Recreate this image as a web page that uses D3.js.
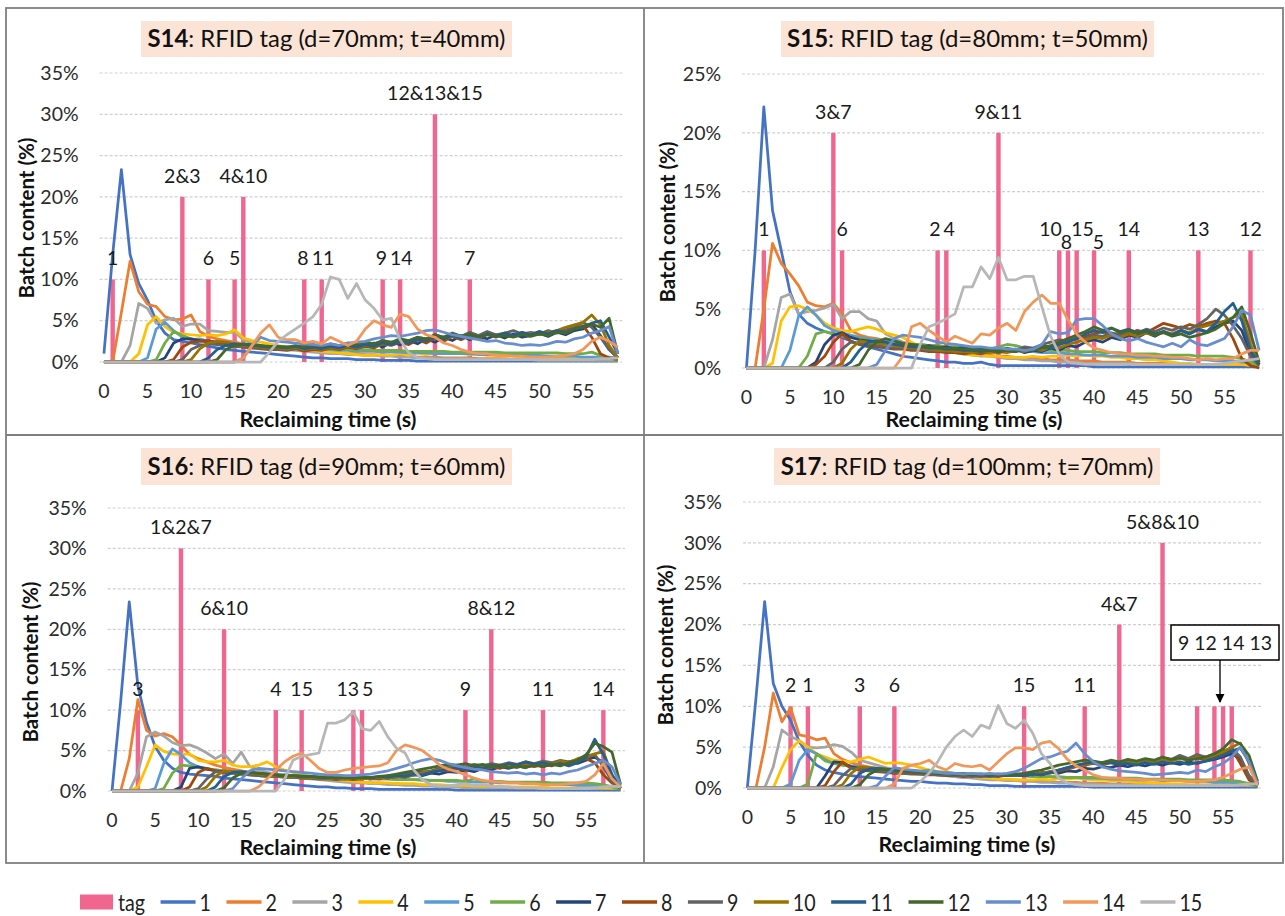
<!DOCTYPE html>
<html>
<head>
<meta charset="utf-8">
<script src="https://cdn.jsdelivr.net/npm/d3@7"></script>
<style>
  body { margin: 0; background: #fff; }
  text { font-family: Lato, "Open Sans", "DejaVu Sans", sans-serif; }
</style>
</head>
<body>
<svg id="chart" width="1285" height="916"></svg>
<script>
// ---------- data ----------
const seconds = d3.range(60);
const xTicks = [0, 5, 10, 15, 20, 25, 30, 35, 40, 45, 50, 55];
const yTicks35 = [0, 5, 10, 15, 20, 25, 30, 35];
const yTicks25 = [0, 5, 10, 15, 20, 25];
const seriesNames = ["1","2","3","4","5","6","7","8","9","10","11","12","13","14","15"];
const lineColors = ["#4472C4","#ED7D31","#A5A5A5","#FFC000","#5B9BD5","#70AD47","#264478","#9E480E",
                    "#636363","#997300","#255E91","#43682B","#698ED0","#F1975A","#B7B7B7"];
const tagColor = "#F0668F";

// S14
const s14TagX = [1, 9, 12, 15, 16, 23, 25, 32, 34, 38, 42];
const s14TagV = [10, 20, 10, 10, 20, 10, 10, 10, 10, 30, 10];
const s14TagText = ["1", "2&3", "6", "5", "4&10", "8", "11", "9", "14", "12&13&15", "7"];
const s14 = [
  [1,13,23.3,13,9.5,7.5,5,3.5,2.7,2.5, 2.3,2.1,1.9,1.7,1.5,1.4,1.3,1.2,1.1,1, 0.9,0.8,0.7,0.6,0.5,0.5,0.4,0.4,0.4,0.3, 0.3,0.3,0.2,0.2,0.2,0.2,0.1,0.1,0.1,0.1, 0.1,0.1,0.1,0.1,0.1,0.1,0.1,0.1,0.1,0.1, 0.1,0.1,0.1,0.1,0.1,0.1,0.1,0.1,0.1,0.1],
  [0,0,6,12.2,8.5,7,6.7,5.5,5.1,5.2, 5.7,3.7,3.1,2.8,2.6,2.4,2.2,2,1.9,1.8, 1.7,1.6,1.5,1.4,1.3,1.2,1.2,1.1,1,1, 0.9,0.9,0.8,0.8,0.7,0.7,0.6,0.6,0.6,0.5, 0.5,0.5,0.5,0.4,0.4,0.4,0.4,0.3,0.3,0.3, 0.3,0.3,0.3,0.3,0.3,0.3,0.3,0.3,0.3,0.3],
  [0,0,0,2,7.1,6.5,4.7,5.1,5.3,4.3, 4.6,4.6,3.8,3.7,3.6,3.6,2.7,2.3,2,1.8, 1.6,1.5,1.4,1.3,1.2,1.1,1,1,0.9,0.9, 0.8,0.8,0.7,0.7,0.6,0.6,0.5,0.5,0.5,0.4, 0.4,0.4,0.4,0.3,0.3,0.3,0.3,0.3,0.3,0.3, 0.2,0.2,0.2,0.2,0.2,0.2,0.2,0.2,0.2,0.2],
  [0,0,0,0,1,4.5,5.5,4.3,3.6,3.4, 3.3,3.2,3.3,3.2,3.4,3.9,2.9,2.6,2.4,2.2, 2,1.8,1.6,1.5,1.4,1.3,1.2,1.1,1,0.9, 0.8,0.8,0.9,0.8,1,0.8,1.1,0.9,1.2,1, 1.1,1,0.9,1,0.8,0.8,0.7,0.7,0.6,0.6, 0.6,0.5,0.5,0.5,0.5,0.5,0.4,0.4,0.4,0.3],
  [0,0,0,0,0,0.5,4,4.8,3.8,3, 2.7,2.8,2.5,2.4,2.4,2.2,2.1,2,1.9,1.9, 1.8,1.8,1.7,1.6,1.6,1.5,1.5,1.4,1.4,1.3, 1.3,1.3,1.2,1.2,1.2,1.1,1.1,1.1,1,1, 1,1,1,0.9,0.9,0.9,0.9,0.8,0.8,0.8, 0.8,0.7,0.7,0.7,0.7,0.6,0.6,0.6,0.6,0.5],
  [0,0,0,0,0,0,0.3,2.3,3.7,3.2, 2.8,2.6,2.4,2.3,2.2,2.1,2,2,1.9,1.9, 1.8,1.8,1.7,1.7,1.6,1.6,1.6,1.5,1.5,1.5, 1.5,1.4,1.4,1.4,1.4,1.3,1.3,1.3,1.3,1.3, 1.2,1.2,1.2,1.2,1.2,1.2,1.1,1.1,1.1,1.1, 1.1,1.1,1.1,1,1,1,1.2,0.8,0.5,0.2],
  [0,0,0,0,0,0,0,0.5,2.3,2.8, 2.8,2.6,2.5,2.4,2.2,2.1,2,2,1.9,1.9, 1.8,1.8,1.8,1.8,1.7,1.7,1.7,1.8,1.8,1.9, 1.9,2.3,1.8,2.4,2.1,2.6,2.2,2.8,2.4,3, 2.6,3.2,2.7,3.1,2.8,3.3,2.9,3.4,3,3.2, 3.5,3.1,3.6,3.3,3.8,4,4.6,3.2,1.5,0.5],
  [0,0,0,0,0,0,0,0,0.3,1.8, 2.4,2.5,2.6,2.3,2.1,2,1.8,1.7,1.6,1.5, 1.5,1.4,1.6,1.3,1.5,1.4,1.7,1.5,1.8,1.6, 1.9,1.7,2.2,2,2.4,2.1,2.7,2.3,2.9,2.5, 3.1,2.7,3.2,2.8,3.4,3,3.5,3.1,3.6,3.2, 3.7,3.3,3.8,3.5,4,4.4,3,1,0.5,0.3],
  [0,0,0,0,0,0,0,0,0,0.3, 1.5,2,2.2,2.1,2,1.9,1.8,1.7,1.7,1.6, 1.6,1.5,1.7,1.5,1.8,1.6,1.9,1.7,2,1.8, 2.1,2,2.4,2.2,2.7,2.5,3,2.8,3.3,3, 3.4,3.1,3.6,3.2,3.7,3.3,3.5,3.8,3.4,3.6, 3.4,3.8,3.5,3.9,4.2,4.8,4.2,3,1.5,0.5],
  [0,0,0,0,0,0,0,0,0,0, 0.3,1.6,2.3,2.5,2.4,2.2,2,1.9,1.8,1.7, 1.7,1.6,1.8,1.5,1.7,1.5,1.8,1.6,1.9,1.7, 2,1.9,2.2,2.1,2.5,2.4,2.8,2.6,3,2.8, 3.1,2.9,3.2,3,3.3,3.1,3.4,3.2,3.3,3.5, 3.3,3.6,3.8,4.2,4.5,4.8,5.7,4.5,2,0.5],
  [0,0,0,0,0,0,0,0,0,0, 0,0,0.5,1.5,2,2.2,2.1,2,1.9,1.8, 1.8,1.7,1.9,1.6,1.8,1.6,1.9,1.7,2,1.8, 2.1,1.9,2.3,2.1,2.5,2.3,2.7,2.6,3,2.8, 3.2,2.9,3.3,3,3.4,3.1,3.5,3.2,3.6,3.3, 3.7,3.4,3.8,3.6,4,4.3,4.7,5,3,1],
  [0,0,0,0,0,0,0,0,0,0, 0,0,0,0.3,1.5,2,2.2,2.1,2,1.9, 1.9,1.8,2,1.8,2.1,1.9,2.2,2,2.3,2.1, 2.4,2.2,2.6,2.4,2.8,2.6,3,2.8,3.3,3, 3.5,3.1,3.4,3,3.3,3.1,3.2,3,3.3,3.1, 3.4,3.2,3.6,3.5,4,4.2,4.6,4.2,5.3,1],
  [0,0,0,0,0,0,0,0,0,0, 0,0,0,0,0,0,0.5,2,3,2.6, 2.5,2.4,2.3,2.2,2.1,2,2.2,2,2.3,2.4, 2.5,2.8,3,3.2,3.1,3.3,3.5,3.8,3.9,3.6, 3.3,3.1,2.9,2.7,2.5,2.6,2.3,2.2,2,2.1, 2,2.2,2.5,2.4,2.8,3,3.5,3.8,4.3,1],
  [0,0,0,0,0,0,0,0,0,0, 0,0,0,0,0,0,0.5,2,3.5,4.5, 3,2.7,2.7,2.3,2.5,2.2,3,2.5,2,2.5, 4,5,4.5,4.2,5.8,5.5,4,3.3,3,2.3, 2,1.5,1.2,1,1,0.8,0.8,0.7,0.7,0.6, 0.6,0.6,0.7,0.8,1,1.5,2.5,3,2.5,1.8],
  [0,0,0,0,0,0,0,0,0,0, 0,0,0,0,0,0,0,0,0,1.2, 2.5,3.3,4,4.7,5.5,7,10.3,10,7.7,9.5, 7.5,6.5,5.1,5.3,2.7,1.1,0.5,0.4,0.3,0.3, 0.3,0.3,0.3,0.3,0.3,0.3,0.3,0.3,0.3,0.3, 0.3,0.3,0.3,0.3,0.3,0.3,0.3,0.4,0.4,0.5]
];

// S15
const s15TagX = [2, 10, 11, 22, 23, 29, 36, 37, 38, 40, 44, 52, 58];
const s15TagV = [10, 20, 10, 10, 10, 20, 10, 10, 10, 10, 10, 10, 10];
const s15TagText = ["1", "3&7", "6", "2", "4", "9&11", "10", "8", "15", "5", "14", "13", "12"];
const s15 = [
  [0,10,22.2,13.4,10,6.5,4.6,3.8,3.4,3.1, 2.9,2.6,2.3,2,1.8,1.6,1.4,1.2,1,0.9, 0.8,0.7,0.6,0.5,0.5,0.4,0.4,0.5,0.3,0.2, 0.2,0.2,0.2,0.2,0.2,0.2,0.2,0.2,0.2,0.2, 0.1,0.1,0.1,0.1,0.1,0.1,0.1,0.1,0.1,0.1, 0.1,0.1,0.1,0.1,0.1,0.1,0.1,0.1,0.1,0.1],
  [0,0,5,10.6,8.9,8,7,5.6,5.3,5.2, 5.5,4.6,3.2,2.8,2.6,2.5,2.3,2.2,2,1.9, 1.8,1.7,1.6,1.5,1.4,1.3,1.2,1.2,1.1,1, 1,0.9,0.9,0.8,0.8,0.7,0.7,0.7,0.6,0.6, 0.6,0.5,0.5,0.5,0.5,0.4,0.4,0.4,0.4,0.4, 0.3,0.3,0.3,0.3,0.3,0.3,0.3,0.3,0.3,0.3],
  [0,0,0,2.4,6,6.3,4.6,4.8,4.9,5.1, 5.4,4.2,4.8,4.8,4.2,4,2.9,2.5,2.2,2, 1.8,1.6,1.5,1.4,1.3,1.2,1.1,1,1,0.9, 0.8,0.8,0.7,0.7,0.6,0.6,0.5,0.5,0.5,0.4, 0.4,0.4,0.4,0.4,0.4,0.3,0.3,0.3,0.3,0.3, 0.3,0.3,0.3,0.3,0.3,0.3,0.3,0.3,0.3,0.3],
  [0,0,0,0.4,4,5.2,5.3,5,4.5,3.8, 3.4,3.2,3.1,3.3,3.5,3.3,3,2.8,2.6,2.2, 1.8,1.6,1.5,1.4,1.3,1.2,1.1,1.1,1,1, 0.9,0.9,0.9,1,0.9,1,1,1.1,1,1.1, 1,1,0.9,0.9,0.8,0.8,0.7,0.7,0.6,0.5, 0.4,0.4,0.3,0.3,0.3,0.3,0.3,0.3,0.2,0.2],
  [0,0,0,0,0,1.5,4.4,5.2,4.5,3.6, 3.2,3,2.8,2.6,2.5,2.4,2.3,2.2,2.1,2, 2,1.9,1.9,1.8,1.8,1.7,1.7,1.6,1.6,1.5, 1.5,1.5,1.4,1.4,1.3,1.3,1.3,1.2,1.2,1.1, 1.1,1.1,1,1,1,0.9,0.9,0.9,0.8,0.8, 0.8,0.7,0.7,0.7,0.6,0.6,0.6,0.5,0.5,0.5],
  [0,0,0,0,0,0,0,1,2.9,3.1, 2.9,2.7,2.6,2.5,2.4,2.3,2.2,2.1,2.1,2, 2,1.9,1.9,1.8,1.8,1.7,1.7,1.7,1.6,1.8, 2,1.9,1.7,1.6,1.6,1.5,1.5,1.5,1.4,1.4, 1.4,1.3,1.3,1.3,1.2,1.2,1.2,1.2,1.1,1.1, 1.1,1.1,1,1,1,1,0.9,0.8,0.5,0.2],
  [0,0,0,0,0,0,0,0,0.5,2, 2.8,3,2.6,2.4,2.3,2.2,2.1,2,1.9,1.9, 1.8,1.9,1.7,1.8,1.6,1.8,1.6,1.7,1.5,1.6, 1.4,1.6,1.3,1.5,1.4,1.7,1.5,1.9,1.8,2.2, 2.4,2.2,2.6,2.4,2.8,2.6,3,2.7,3.1,2.8, 3.2,2.9,3.3,3,3.5,3.8,4,3.2,1.2,0.3],
  [0,0,0,0,0,0,0,0,0.3,1, 2.2,2.9,2.3,2,1.9,1.8,1.7,1.6,1.6,1.5, 1.5,1.4,1.4,1.3,1.3,1.2,1.3,1.2,1.4,1.3, 1.5,1.4,1.7,1.6,1.9,1.8,2.1,2.3,2.5,2.7, 2.9,3.1,2.8,3,2.9,3.2,3,3.4,3.8,3.6, 3.4,3.7,3.5,3.8,4,3.8,2.5,0.8,0.2,0],
  [0,0,0,0,0,0,0,0,0,0, 0.5,1.6,2.2,2.1,2,1.9,1.8,1.7,1.7,1.6, 1.6,1.5,1.5,1.4,1.5,1.4,1.6,1.4,1.6,1.5, 1.7,1.5,1.8,1.7,2,2.2,2.4,2.3,2.6,2.5, 2.8,2.7,3,2.8,3.1,3,3.3,3.1,3.4,3.2, 3.5,3.3,3.7,4.2,5,4.5,3.6,2.5,1,0.2],
  [0,0,0,0,0,0,0,0,0,0, 0,0.4,1.6,2.3,2.2,2.1,2,1.9,1.8,1.7, 1.7,1.6,1.5,1.5,1.4,1.4,1.3,1.4,1.3,1.4, 1.3,1.5,1.4,1.6,1.5,1.8,1.7,2,2.2,2.4, 2.6,2.5,2.8,2.6,2.9,2.7,3,2.8,3.1,2.9, 3.2,3,3.4,3.6,3.8,4,4.3,4.6,2,0.3],
  [0,0,0,0,0,0,0,0,0,0, 0,0,0.5,1.5,2.2,2.3,2.2,2,1.9,1.8, 1.8,1.7,1.7,1.6,1.6,1.5,1.5,1.4,1.5,1.4, 1.5,1.4,1.6,1.5,1.8,1.7,2,2.2,2.5,2.9, 3.2,3,3.4,3.1,3.3,3,3.2,2.9,3.1,2.8, 3.2,2.9,3.3,3.1,3.8,4.8,5.5,4,1.5,0.3],
  [0,0,0,0,0,0,0,0,0,0, 0,0,0,0.3,1.5,2.2,2.5,2.3,2.1,2, 1.9,1.8,1.8,1.7,1.7,1.6,1.6,1.5,1.5,1.4, 1.5,1.4,1.6,1.5,1.7,1.9,2.2,2.5,2.8,3.1, 3.5,3.2,3.4,3,3.2,2.9,3.1,2.8,3,2.7, 2.9,2.6,2.8,3,3.3,3.8,4.3,5.2,3,0.5],
  [0,0,0,0,0,0,0,0,0,0, 0,0,0,0,0,0.3,1.5,2.5,2.8,2.7, 2.6,2.4,2.2,2.1,2,1.9,1.8,1.8,1.7,1.7, 1.6,1.6,1.5,1.6,2,3.1,2.9,3,4.1,4.2, 4.2,3.6,2.9,2.5,2.3,2.5,2.2,2,1.8,2.1, 1.8,2.4,2,1.9,2.2,2.5,3.5,4.9,4.5,1.5],
  [0,0,0,0,0,0,0,0,0,0, 0,0,0,0,0,0,0,0,1,3.5, 3.8,3.2,2.7,2.2,2.7,2.4,2.1,2.9,2.8,3.4, 3.8,3.2,4.8,5.6,6.2,5.5,5.5,4.1,2.9,2.2, 1.7,1.5,1.3,1.2,1.2,1.1,1.1,1,1,0.9, 0.9,0.8,0.7,0.8,0.7,0.8,0.8,1.2,1.5,1.5],
  [0,0,0,0,0,0,0,0,0,0, 0,0,0,0,0,0,0,0,0,0, 2,3.5,3.8,4.2,4.6,6.9,6.9,8.6,7.6,9.4, 7.5,7.5,7.8,7.8,5.2,2.7,1.2,0.5,0.4,0.3, 0.3,0.3,0.3,0.3,0.3,0.3,0.3,0.3,0.3,0.3, 0.3,0.3,0.3,0.3,0.3,0.4,0.5,0.6,0.7,0.8]
];

// S16
const s16TagX = [3, 8, 13, 19, 22, 28, 29, 41, 44, 50, 57];
const s16TagV = [10, 30, 20, 10, 10, 10, 10, 10, 20, 10, 10];
const s16TagText = ["3", "1&2&7", "6&10", "4", "15", "13", "5", "9", "8&12", "11", "14"];
const s16 = [
  [0,11,23.4,13,8.5,5.5,3.8,2.8,2.3,2.1, 2,1.9,1.8,1.6,1.5,1.4,1.3,1.2,1.1,1, 0.9,0.8,0.7,0.6,0.5,0.5,0.4,0.4,0.3,0.3, 0.3,0.2,0.2,0.2,0.2,0.2,0.2,0.2,0.2,0.2, 0.1,0.1,0.1,0.1,0.1,0.1,0.1,0.1,0.1,0.1, 0.1,0.1,0.1,0.1,0.1,0.1,0.1,0.1,0.1,0.1],
  [0,0,4,11.3,7.5,6.8,7.1,6.7,5.7,4.5, 4,3.6,3.2,2.9,2.7,2.5,2.3,2.2,2.1,2, 1.9,1.8,1.7,1.6,1.5,1.4,1.3,1.2,1.2,1.1, 1,1,0.9,0.9,0.8,0.8,0.7,0.7,0.7,0.6, 0.6,0.6,0.5,0.5,0.5,0.5,0.4,0.4,0.4,0.4, 0.4,0.3,0.3,0.3,0.3,0.3,0.3,0.3,0.3,0.3],
  [0,0,0,2.2,6.7,7.3,6.8,6,5.6,5.7, 5.3,4.7,4,4.6,3.4,4.8,3,2.6,2.3,2.1, 1.9,1.7,1.6,1.5,1.4,1.3,1.2,1.1,1,1, 0.9,0.9,0.8,0.8,0.7,0.7,0.6,0.6,0.5,0.5, 0.5,0.4,0.4,0.4,0.4,0.4,0.4,0.4,0.4,0.4, 0.3,0.3,0.3,0.3,0.3,0.3,0.3,0.3,0.3,0.3],
  [0,0,0,0.5,3,5.7,4.9,4.6,4.5,4.6, 3.8,3.6,3.6,3.8,3.2,3,3,3.2,3.6,3, 2.6,2.3,2,1.8,1.6,1.5,1.4,1.3,1.2,1.1, 1,1,1,0.9,0.9,0.9,0.8,0.8,0.8,0.7, 0.7,0.7,0.6,0.6,0.6,0.6,0.5,0.5,0.5,0.5, 0.5,0.4,0.4,0.4,0.4,0.4,0.4,0.4,0.4,0.4],
  [0,0,0,0,0,0.3,3.4,5.2,4.5,3.5, 3,2.8,2.6,2.5,2.4,2.3,2.2,2.1,2.1,2, 2,1.9,1.9,1.8,1.8,1.7,1.7,1.6,1.6,1.6, 1.5,1.5,1.5,1.4,1.4,1.4,1.3,1.3,1.3,1.2, 1.2,1.2,1.1,1.1,1.1,1,1,1,0.9,0.9, 0.9,0.8,0.8,0.8,0.7,0.7,0.7,0.6,0.6,0.5],
  [0,0,0,0,0,0,0.3,2.2,3.2,3.1, 2.9,2.7,2.6,2.5,2.4,2.3,2.2,2.1,2.1,2, 2,1.9,1.9,1.8,1.8,1.7,1.7,1.6,1.6,1.6, 1.5,1.5,1.5,1.4,1.4,1.4,1.4,1.3,1.3,1.3, 1.3,1.2,1.5,1.2,1.2,1.2,1.1,1.1,1.1,1.1, 1.1,1,1,1,1,1,0.9,0.8,0.5,0.2],
  [0,0,0,0,0,0,0,0,0.5,2.8, 3,2.7,2.5,2.4,2.3,2.2,2.1,2,1.9,1.9, 1.8,1.8,1.7,1.7,1.6,1.7,1.5,1.6,1.5,1.6, 1.5,1.7,1.6,1.8,1.7,2,1.9,2.2,2.1,2.4, 2.3,2.6,2.4,2.8,2.6,3,2.8,3.1,2.9,3.3, 3,3.4,3.2,3.6,3.4,3.8,4.2,3.5,1.5,0.3],
  [0,0,0,0,0,0,0,0,0,0.5, 2.3,2.8,2.5,2.3,2.2,2.1,2,1.9,1.8,1.8, 1.7,1.7,1.6,1.6,1.5,1.5,1.4,1.5,1.4,1.5, 1.6,1.5,1.8,1.7,2,2.2,2.4,2.3,2.6,2.5, 2.8,2.6,2.9,2.7,3,2.8,3.1,2.9,3.2,3, 3.3,3.1,3.5,3.3,3.7,4,3.5,2,1,0.3],
  [0,0,0,0,0,0,0,0,0,0, 0.3,1.5,2.4,2.3,2.2,2.1,2,1.9,1.8,1.8, 1.7,1.7,1.6,1.6,1.5,1.5,1.6,1.5,1.6,1.5, 1.7,1.6,1.9,1.8,2.1,2,2.3,2.5,2.8,3, 3.2,3,3.3,3.1,3.4,3.2,3.5,3.3,3.6,3.4, 3.7,3.5,3.8,3.6,3.9,4.1,4.5,3,1.2,0.3],
  [0,0,0,0,0,0,0,0,0,0, 0,0.5,1.8,2.5,2.4,2.3,2.2,2.1,2,1.9, 1.8,1.8,1.7,1.7,1.6,1.6,1.5,1.6,1.5,1.6, 1.5,1.7,1.6,1.8,1.7,2,2.2,2.4,2.6,2.8, 3,2.8,3.1,2.9,3.2,3,3.3,3.1,3.4,3.2, 3.5,3.3,3.7,3.5,4,4.3,4.6,4.9,2,0.3],
  [0,0,0,0,0,0,0,0,0,0, 0,0,0.5,1.8,2.3,2.4,2.3,2.2,2.1,2, 1.9,1.9,1.8,1.8,1.7,1.7,1.6,1.7,1.6,1.7, 1.6,1.8,1.7,1.9,1.8,2.1,2,2.3,2.5,2.7, 2.9,2.7,3,2.8,3.2,3,3.4,3.2,3.6,3.3, 3.5,3.2,3.4,3.1,3.5,4.2,6.4,4.5,2,0.5],
  [0,0,0,0,0,0,0,0,0,0, 0,0,0,0.4,1.6,2.2,2.3,2.2,2.1,2, 1.9,1.9,1.8,1.8,1.7,1.7,1.6,1.7,1.6,1.7, 1.7,1.8,1.9,2.1,2.3,2.5,2.7,2.9,3.1,3.3, 3.2,3.4,3.1,3.3,3,3.2,2.9,3.1,2.9,3.2, 3,3.3,3.1,3.5,3.8,4.5,5.9,5.5,4.8,0.8],
  [0,0,0,0,0,0,0,0,0,0, 0,0,0,0,0.3,1.5,2.5,2.8,2.7,2.6, 2.5,2.4,2.3,2.2,2.1,2,2,1.9,1.9,2, 2.1,2.3,2.5,2.8,3.1,3.5,3.8,4,3.8,3.4, 3.1,2.9,2.7,2.6,2.4,2.3,2.2,2.3,2.1,2.2, 2,2.2,2.1,2.4,2.6,3,3.4,3.8,3,0.8],
  [0,0,0,0,0,0,0,0,0,0, 0,0,0,0,0,0,0,0.5,1.5,2.6, 3.6,4.3,4.7,3.8,2.8,2.3,2.3,2.6,2.8,2.9, 3,3.1,3.5,5,5.7,5.4,5,4.2,3.2,2.7, 2.4,2,1.6,1.3,1.2,1.1,1,1,0.9,0.9, 0.8,0.8,0.8,0.9,1,1.2,2,3.4,1.5,0.5],
  [0,0,0,0,0,0,0,0,0,0, 0,0,0,0,0,0,0,0,0,0, 1.4,3.8,4.3,4.5,4.7,8.4,8.4,8.8,9.8,7.7, 7.5,8.6,6.7,5.3,4.7,2.6,1.4,0.8,0.6,0.6, 0.8,0.9,0.7,0.8,0.6,0.5,0.5,0.4,0.4,0.4, 0.3,0.3,0.3,0.3,0.3,0.3,0.4,0.5,0.6,0.5]
];

// S17
const s17TagX = [5, 7, 13, 17, 32, 39, 43, 48, 52, 54, 55, 56];
const s17TagV = [10, 10, 10, 10, 10, 10, 20, 30, 10, 10, 10, 10];
const s17TagText = ["2", "1", "3", "6", "15", "11", "4&7", "5&8&10", null, null, null, null];
const s17Callout = "9 12 14 13";
const s17 = [
  [0,11,22.8,12.8,10,8.3,5.7,4,2.8,2.2, 1.9,1.7,1.5,1.4,1.3,1.2,1.1,1,0.9,0.8, 0.8,0.7,0.6,0.6,0.5,0.5,0.4,0.4,0.3,0.3, 0.3,0.2,0.2,0.2,0.2,0.2,0.2,0.2,0.2,0.2, 0.1,0.1,0.1,0.1,0.1,0.1,0.1,0.1,0.1,0.1, 0.1,0.1,0.1,0.1,0.1,0.1,0.1,0.1,0.1,0.1],
  [0,0,5,11.6,8.1,9.8,6.5,6.3,5.9,6.1, 4.2,3.5,3.1,2.8,2.6,2.4,2.3,2.1,2,1.9, 1.8,1.7,1.6,1.5,1.4,1.3,1.3,1.2,1.1,1.1, 1,1,0.9,0.9,0.8,0.8,0.7,0.7,0.7,0.6, 0.6,0.6,0.5,0.5,0.5,0.5,0.4,0.4,0.4,0.4, 0.4,0.3,0.3,0.3,0.3,0.3,0.3,0.3,0.3,0.3],
  [0,0,0,2.6,7.1,6.3,5.8,5,4.9,5, 5.3,5.1,4.4,3.4,3.1,2.8,2.5,2.3,2.1,1.9, 1.8,1.7,1.6,1.5,1.4,1.3,1.2,1.1,1,1, 0.9,0.9,0.8,0.8,0.7,0.7,0.6,0.6,0.5,0.5, 0.5,0.4,0.4,0.4,0.4,0.4,0.4,0.4,0.4,0.4, 0.3,0.3,0.3,0.3,0.3,0.3,0.3,0.3,0.3,0.3],
  [0,0,0,0,2.5,4.7,5.8,5,4.2,3.8, 3.4,3.3,3.2,3.5,3.8,3.4,3,3.1,3,2.8, 2.5,2.2,2,1.8,1.6,1.5,1.4,1.3,1.2,1.1, 1.1,1,1,1,1.1,1,1.2,1.1,1.2,1.1, 1,1,0.9,0.9,0.8,0.7,0.7,0.6,0.6,0.5, 0.5,0.4,0.4,0.4,0.4,0.4,0.4,0.4,0.4,0.4],
  [0,0,0,0,0,0.5,3.4,4.7,4.2,3.5, 3,2.8,2.7,2.6,2.5,2.4,2.3,2.2,2.1,2.1, 2,2,1.9,1.9,1.8,1.8,1.7,1.7,1.6,1.6, 1.5,1.5,1.5,1.4,1.4,1.4,1.3,1.3,1.3,1.2, 1.2,1.2,1.1,1.1,1.1,1,1,1,0.9,0.9, 0.9,0.8,0.8,0.8,0.7,0.7,0.7,0.6,0.6,0.5],
  [0,0,0,0,0,0,0,0.5,4.2,3.3, 3,2.8,2.6,2.5,2.4,2.3,2.2,2.1,2.1,2, 2,2.2,2,1.9,1.8,1.8,1.7,1.7,1.6,1.6, 1.5,1.5,1.5,1.4,1.4,1.4,1.4,1.3,1.3,1.3, 1.3,1.2,1.2,1.2,1.2,1.2,1.1,1.1,1.1,1.1, 1.1,1,1,1,1,1,0.9,0.8,0.5,0.2],
  [0,0,0,0,0,0,0,0,0,1.5, 3.2,3.1,2.6,2.4,2.3,2.2,2.1,2,1.9,1.9, 1.8,1.8,1.7,1.7,1.6,1.7,1.5,1.6,1.5,1.6, 1.5,1.6,1.5,1.7,1.6,1.9,1.8,2.1,2,2.4, 2.3,2.6,2.5,2.8,2.6,2.9,2.7,3,2.8,3.1, 2.9,3.2,3,3.3,3.5,3.8,4.2,3.5,1.5,0.3],
  [0,0,0,0,0,0,0,0,0,0.3, 2,3.2,2.4,2.2,2.1,2,1.9,1.8,1.8,1.7, 1.7,1.6,1.6,1.5,1.5,1.4,1.5,1.4,1.5,1.4, 1.6,1.5,1.7,1.6,1.9,1.8,2.1,2.3,2.6,2.8, 3,2.8,3.1,2.9,3.2,3,3.4,3.2,3.6,3.4, 3.8,3.5,3.7,3.4,3.9,4.2,4.8,3,1,0.3],
  [0,0,0,0,0,0,0,0,0,0, 0.3,1.5,2.4,2.3,2.2,2.1,2,1.9,1.8,1.8, 1.7,1.7,1.6,1.6,1.5,1.5,1.4,1.5,1.4,1.5, 1.6,1.5,1.7,1.6,1.8,2,2.2,2.4,2.7,2.9, 3.1,2.9,3.2,3,3.3,3.1,3.5,3.3,3.7,3.5, 4,3.6,4.1,3.8,4.2,4.5,4.9,3.8,1.5,0.3],
  [0,0,0,0,0,0,0,0,0,0, 0,0.4,1.8,2.6,2.5,2.4,2.3,2.2,2.1,2, 1.9,1.9,1.8,1.8,1.7,1.7,1.6,1.7,1.6,1.7, 1.6,1.7,1.6,1.8,1.7,2,2.2,2.5,2.7,2.9, 3.1,2.9,3.2,3,3.3,3.1,3.4,3.2,3.5,3.3, 3.6,3.4,3.8,3.6,4,4.4,5,5.5,3,0.4],
  [0,0,0,0,0,0,0,0,0,0, 0,0,0.5,1.8,2.3,2.4,2.3,2.2,2.1,2, 1.9,1.9,1.8,1.8,1.7,1.7,1.6,1.6,1.5,1.6, 1.5,1.6,1.5,1.7,1.6,1.9,2.2,2.5,2.8,3, 3.2,3,3.1,2.9,3,2.8,3.1,2.9,3.2,3, 3.2,2.9,3.1,3.3,3.6,4,4.5,4.9,3.2,0.5],
  [0,0,0,0,0,0,0,0,0,0, 0,0,0,0.4,1.6,2.2,2.3,2.2,2.1,2, 1.9,1.9,1.8,1.8,1.7,1.7,1.6,1.7,1.6,1.7, 1.6,1.7,1.8,2,2.2,2.5,2.8,3,3.2,3.4, 3.3,3.1,3.4,3.2,3.5,3.3,3.6,3.4,3.8,3.5, 3.7,3.4,3.6,3.8,4.2,4.8,5.9,5.4,4,0.8],
  [0,0,0,0,0,0,0,0,0,0, 0,0,0,0,0,0.3,1.5,2.5,2.3,2.2, 2.1,2,1.9,1.8,1.8,1.7,1.8,1.7,1.8,1.7, 1.8,2,2.4,3,3.6,3.8,4.2,4.5,5.5,4.2, 3.2,2.6,2.3,2.1,2,1.9,1.8,1.6,1.7,1.8, 1.9,1.8,2.2,2,2.6,3,3.8,5,3.2,0.5],
  [0,0,0,0,0,0,0,0,0,0, 0,0,0,0,0,0,0,0.5,2.4,2.8, 3,3.4,2.6,2.2,3,2.7,2.6,2.8,2.2,3.2, 4.2,4.9,4.9,4.7,5.5,5.7,4.8,3.5,2.7,2.2, 1.6,1.3,1.2,1.2,1.1,1.1,1,1,1,0.9, 0.9,0.8,0.8,0.9,1,1.3,1.8,2.3,2.6,0.3],
  [0,0,0,0,0,0,0,0,0,0, 0,0,0,0,0,0,0,0,0,0, 0.8,1.8,3.2,5,6.3,7.1,6.3,7.7,7.3,10.1, 7.9,7.3,8.3,6.7,4.2,3,1.2,0.6,0.4,0.3, 0.3,0.3,0.3,0.3,0.3,0.3,0.3,0.3,0.3,0.3, 0.3,0.3,0.3,0.3,0.3,0.3,0.3,0.4,0.5,0.5]
];

// ---------- layout ----------
const panels = [
  { name: "S14", rest: ": RFID tag (d=70mm; t=40mm)", series: s14, tagX: s14TagX, tagV: s14TagV, tagText: s14TagText,
    ymax: 35, yTicks: yTicks35, left: 99.6, right: 622.2, y0: 362, ytop: 73,
    box: [141, 21, 371, 36], titleW: 358, yTitle: [27, 218], xTitle: [328, 420], lowered: [] },
  { name: "S15", rest: ": RFID tag (d=80mm; t=50mm)", series: s15, tagX: s15TagX, tagV: s15TagV, tagText: s15TagText,
    ymax: 25, yTicks: yTicks25, left: 742.1, right: 1263.5, y0: 368, ytop: 74,
    box: [781, 21, 373, 36], titleW: 361, yTitle: [668, 222], xTitle: [974, 420], lowered: ["8", "5"] },
  { name: "S16", rest: ": RFID tag (d=90mm; t=60mm)", series: s16, tagX: s16TagX, tagV: s16TagV, tagText: s16TagText,
    ymax: 35, yTicks: yTicks35, left: 107.7, right: 624.9, y0: 791, ytop: 508,
    box: [141, 448, 371, 37], titleW: 358, yTitle: [31, 662], xTitle: [328, 848], lowered: [] },
  { name: "S17", rest: ": RFID tag (d=100mm; t=70mm)", series: s17, tagX: s17TagX, tagV: s17TagV, tagText: s17TagText,
    ymax: 35, yTicks: yTicks35, left: 743, right: 1262, y0: 788, ytop: 502,
    box: [774, 448, 386, 37], titleW: 373, yTitle: [666, 645], xTitle: [967, 845], lowered: [],
    callout: { text: s17Callout, box: [1171, 625, 108, 35], arrow: [1220, 660, 1220, 702] } }
];

const svg = d3.select("#chart");

svg.append("defs").append("marker")
    .attr("id", "arrowhead")
    .attr("viewBox", "0 0 10 10")
    .attr("refX", 9).attr("refY", 5)
    .attr("markerWidth", 7).attr("markerHeight", 7)
    .attr("orient", "auto")
    .append("path")
    .attr("d", "M0,0 L10,5 L0,10 z")
    .attr("fill", "#000");

// scale a text's font so that it spans the given width
function fitWidth(sel, base, target) {
    sel.attr("font-size", base);
    let w = sel.node().getComputedTextLength();
    sel.attr("font-size", base * target / w);
}

// frame
svg.append("rect")
    .attr("x", 6).attr("y", 8).attr("width", 1277).attr("height", 855)
    .attr("fill", "none").attr("stroke", "#7f7f7f").attr("stroke-width", 1.8);
svg.append("line").attr("x1", 644).attr("x2", 644).attr("y1", 8).attr("y2", 863)
    .attr("stroke", "#7f7f7f").attr("stroke-width", 1.8);
svg.append("line").attr("x1", 6).attr("x2", 1283).attr("y1", 435).attr("y2", 435)
    .attr("stroke", "#7f7f7f").attr("stroke-width", 1.8);

panels.forEach(function(p) {
    let g = svg.append("g");

    let x = d3.scaleBand().domain(seconds).range([p.left, p.right]);
    let y = d3.scaleLinear().domain([0, p.ymax]).range([p.y0, p.ytop]);
    let cx = function(d) { return x(d) + x.bandwidth() / 2; };

    // gridlines
    g.append("g").selectAll("line")
        .data(p.yTicks).join("line")
        .attr("x1", p.left).attr("x2", p.right)
        .attr("y1", d => y(d)).attr("y2", d => y(d))
        .attr("stroke", "#cfcfcf").attr("stroke-width", 1.2)
        .attr("stroke-dasharray", "3,2");

    // y axis labels
    let ya = g.append("g")
        .attr("transform", "translate(" + p.left + ",0)")
        .call(d3.axisLeft(y).tickValues(p.yTicks).tickFormat(d => d + "%").tickSize(0).tickPadding(21));
    ya.select(".domain").remove();
    ya.selectAll("text").attr("font-size", 19.5).attr("fill", "#2b2b2b")
        .style("font-family", "Lato, 'Open Sans', sans-serif");

    // x axis labels
    let xa = g.append("g")
        .attr("transform", "translate(0," + p.y0 + ")")
        .call(d3.axisBottom(x).tickValues(xTicks).tickSize(0).tickPadding(22));
    xa.select(".domain").remove();
    xa.selectAll("text").attr("font-size", 19.5).attr("fill", "#2b2b2b")
        .style("font-family", "Lato, 'Open Sans', sans-serif");

    // tag bars
    let tags = p.tagX.map((t, i) => ({ t: t, v: p.tagV[i], label: p.tagText[i] }));
    g.append("g").selectAll("rect")
        .data(tags).join("rect")
        .attr("x", d => cx(d.t) - 2.2)
        .attr("width", 4.4)
        .attr("y", d => y(d.v))
        .attr("height", d => p.y0 - y(d.v))
        .attr("fill", tagColor);

    // lines
    let line = d3.line()
        .x((d, i) => cx(seconds[i]))
        .y(d => y(d));
    g.append("g").selectAll("path")
        .data(p.series).join("path")
        .attr("d", d => line(d))
        .attr("fill", "none")
        .attr("stroke", (d, i) => lineColors[i])
        .attr("stroke-width", 2.75)
        .attr("stroke-linejoin", "round");

    // tag labels
    let labelled = tags.filter(d => d.label);
    let lt = g.append("g").selectAll("text")
        .data(labelled).join("text")
        .attr("x", d => cx(d.t))
        .attr("y", d => y(d.v) - 14 + (p.lowered.indexOf(d.label) >= 0 ? 13 : 0))
        .attr("text-anchor", "middle")
        .attr("font-size", 19.5)
        .attr("fill", "#1a1a1a")
        .text(d => d.label);

    // push apart labels that sit at the same height and overlap
    let items = [];
    lt.each(function(d) {
        items.push({ node: this, x: cx(d.t), w: this.getComputedTextLength(), v: d.v,
                     row: p.lowered.indexOf(d.label) >= 0 ? 1 : 0 });
    });
    d3.group(items, it => it.v).forEach(function(arr) {
        arr.sort((a, b) => a.x - b.x);
        for (let k = 0; k < 40; k++) {
            for (let i = 1; i < arr.length; i++) {
                let a = arr[i - 1], b = arr[i];
                let gap = a.row === b.row ? 3 : -1;
                let ov = (a.x + a.w / 2 + gap) - (b.x - b.w / 2);
                if (ov > 0) { a.x -= ov / 2; b.x += ov / 2; }
            }
        }
        arr.forEach(it => d3.select(it.node).attr("x", it.x));
    });

    // callout box
    if (p.callout) {
        let c = p.callout;
        g.append("rect")
            .attr("x", c.box[0]).attr("y", c.box[1])
            .attr("width", c.box[2]).attr("height", c.box[3])
            .attr("fill", "#fff").attr("stroke", "#000").attr("stroke-width", 1.5);
        g.append("text")
            .attr("x", c.box[0] + c.box[2] / 2).attr("y", c.box[1] + c.box[3] / 2 + 7)
            .attr("text-anchor", "middle").attr("font-size", 19.5).attr("fill", "#1a1a1a")
            .text(c.text);
        g.append("line")
            .attr("x1", c.arrow[0]).attr("y1", c.arrow[1])
            .attr("x2", c.arrow[2]).attr("y2", c.arrow[3])
            .attr("stroke", "#000").attr("stroke-width", 1.3)
            .attr("marker-end", "url(#arrowhead)");
    }

    // title box
    g.append("rect")
        .attr("x", p.box[0]).attr("y", p.box[1])
        .attr("width", p.box[2]).attr("height", p.box[3])
        .attr("fill", "#FBE4D5");
    let tt = g.append("text")
        .attr("x", p.box[0] + p.box[2] / 2)
        .attr("y", p.box[1] + p.box[3] / 2 + 8)
        .attr("text-anchor", "middle")
        .attr("fill", "#111");
    tt.append("tspan").attr("font-weight", "bold").text(p.name);
    tt.append("tspan").text(p.rest);
    fitWidth(tt, 22, p.titleW);

    // axis titles
    let yt = g.append("text")
        .attr("transform", "translate(" + p.yTitle[0] + "," + p.yTitle[1] + ") rotate(-90)")
        .attr("y", 7)
        .attr("text-anchor", "middle")
        .attr("font-weight", "bold").attr("fill", "#111")
        .text("Batch content (%)");
    fitWidth(yt, 20, 161);
    let xt = g.append("text")
        .attr("x", p.xTitle[0]).attr("y", p.xTitle[1] + 7)
        .attr("text-anchor", "middle")
        .attr("font-weight", "bold").attr("fill", "#111")
        .text("Reclaiming time (s)");
    fitWidth(xt, 20, 177);
});

// legend
let legend = svg.append("g");
let legendItems = ["tag"].concat(seriesNames);
let lx = 80, ly = 902;
legendItems.forEach(function(name, i) {
    let tx;
    if (i === 0) {
        legend.append("rect")
            .attr("x", lx).attr("y", ly - 7.5).attr("width", 33).attr("height", 15)
            .attr("fill", tagColor);
        tx = lx + 38;
    } else {
        legend.append("line")
            .attr("x1", lx).attr("x2", lx + 35).attr("y1", ly).attr("y2", ly)
            .attr("stroke", lineColors[i - 1]).attr("stroke-width", 3.5);
        tx = lx + 39;
    }
    let t = legend.append("text")
        .attr("transform", "translate(" + tx + "," + (ly + 9) + ") scale(0.82,1)")
        .attr("font-size", 24)
        .attr("fill", "#222")
        .text(name);
    let w = t.node().getComputedTextLength() * 0.82;
    lx = tx + w + 15.5;
});
</script>
</body>
</html>
